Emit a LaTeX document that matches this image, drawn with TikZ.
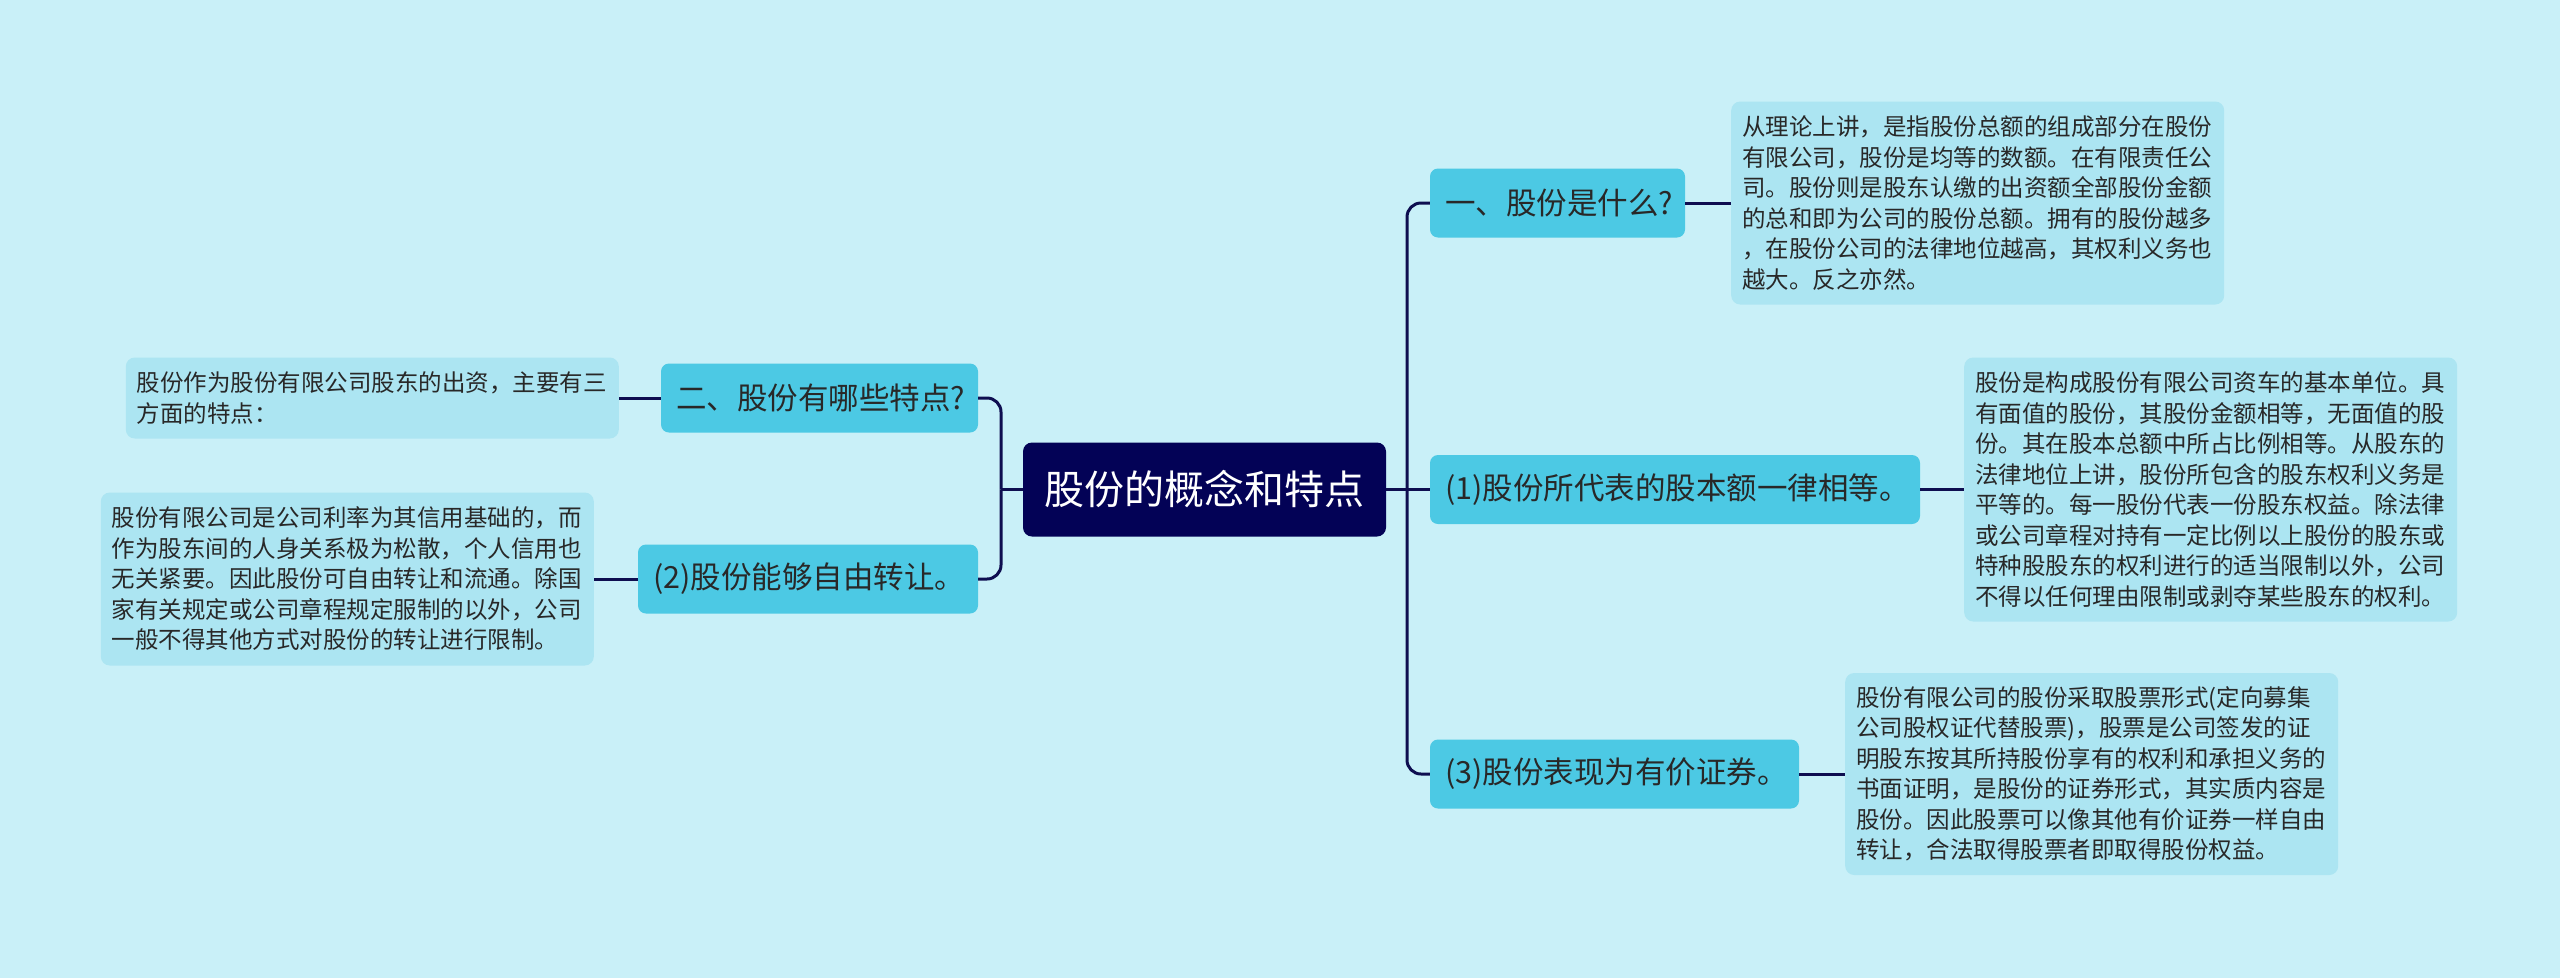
\documentclass[tikz,border=0pt]{standalone}
\usepackage{fontspec}
\setmainfont{Noto Sans CJK SC}
\definecolor{bgc}{RGB}{201,240,248}
\definecolor{rootc}{RGB}{3,2,86}
\definecolor{linec}{RGB}{14,14,80}
\definecolor{topicc}{RGB}{76,201,228}
\definecolor{leafc}{RGB}{172,229,242}
\definecolor{txtc}{RGB}{40,40,40}
\begin{document}
\begin{tikzpicture}[x=1pt,y=-1pt,
  lnk/.style={draw=linec, line width=3pt},
  rootbox/.style={fill=rootc, text=white, rounded corners=9pt, font=\fontsize{40}{48}\selectfont, minimum width=363pt, minimum height=94pt, inner sep=0pt},
  topic/.style={fill=topicc, text=txtc, rounded corners=8pt, font=\fontsize{30.5}{36}\selectfont, minimum height=69pt, inner xsep=15pt, inner ysep=0pt, align=left},
  leaf/.style={fill=leafc, text=txtc, rounded corners=9pt, font=\fontsize{23.5}{30.5}\selectfont, text width=471pt, align=left, inner xsep=11pt, inner ysep=0pt}
]
\useasboundingbox[fill=bgc] (0,0) rectangle (2560,978);

\node[rootbox] (root) at (1204.5,489.5) {股份的概念和特点};
\node[topic, text width=225pt] (t1) at (1557.5,203) {一、股份是什么?};
\node[topic, text width=460pt] (t2) at (1675,489.5) {(1)股份所代表的股本额一律相等。};
\node[topic, text width=339pt] (t3) at (1614.5,774) {(3)股份表现为有价证券。};
\node[topic, text width=287pt] (t4) at (819.5,398) {二、股份有哪些特点?};
\node[topic, text width=310pt] (t5) at (808,579) {(2)股份能够自由转让。};

\node[leaf, minimum height=203pt, anchor=west] (l1) at (1731,203) {从理论上讲，是指股份总额的组成部分在股份\\有限公司，股份是均等的数额。在有限责任公\\司。股份则是股东认缴的出资额全部股份金额\\的总和即为公司的股份总额。拥有的股份越多\\，在股份公司的法律地位越高，其权利义务也\\越大。反之亦然。};
\node[leaf, minimum height=264pt, anchor=west] (l2) at (1964,489.5) {股份是构成股份有限公司资车的基本单位。具\\有面值的股份，其股份金额相等，无面值的股\\份。其在股本总额中所占比例相等。从股东的\\法律地位上讲，股份所包含的股东权利义务是\\平等的。每一股份代表一份股东权益。除法律\\或公司章程对持有一定比例以上股份的股东或\\特种股股东的权利进行的适当限制以外，公司\\不得以任何理由限制或剥夺某些股东的权利。};
\node[leaf, minimum height=202pt, anchor=west] (l3) at (1845,774) {股份有限公司的股份采取股票形式(定向募集\\公司股权证代替股票)，股票是公司签发的证\\明股东按其所持股份享有的权利和承担义务的\\书面证明，是股份的证券形式，其实质内容是\\股份。因此股票可以像其他有价证券一样自由\\转让，合法取得股票者即取得股份权益。};
\node[leaf, minimum height=81pt, anchor=east] (l4) at (619,398) {股份作为股份有限公司股东的出资，主要有三\\方面的特点：};
\node[leaf, minimum height=173pt, anchor=east] (l5) at (594,579) {股份有限公司是公司利率为其信用基础的，而\\作为股东间的人身关系极为松散，个人信用也\\无关紧要。因此股份可自由转让和流通。除国\\家有关规定或公司章程规定服制的以外，公司\\一般不得其他方式对股份的转让进行限制。};

\coordinate (jr) at (1407,489.5);
\coordinate (jl) at (1001,489.5);
\draw[lnk] (root.east) -- (jr) -- (t2.west);
\draw[lnk, rounded corners=14pt] (jr) |- (t1.west);
\draw[lnk, rounded corners=14pt] (jr) |- (t3.west);
\draw[lnk] (root.west) -- (jl);
\draw[lnk, rounded corners=14pt] (jl) |- (t4.east);
\draw[lnk, rounded corners=14pt] (jl) |- (t5.east);
\draw[lnk] (t1.east) -- (l1.west);
\draw[lnk] (t2.east) -- (l2.west);
\draw[lnk] (t3.east) -- (l3.west);
\draw[lnk] (t4.west) -- (l4.east);
\draw[lnk] (t5.west) -- (l5.east);
\end{tikzpicture}
\end{document}
